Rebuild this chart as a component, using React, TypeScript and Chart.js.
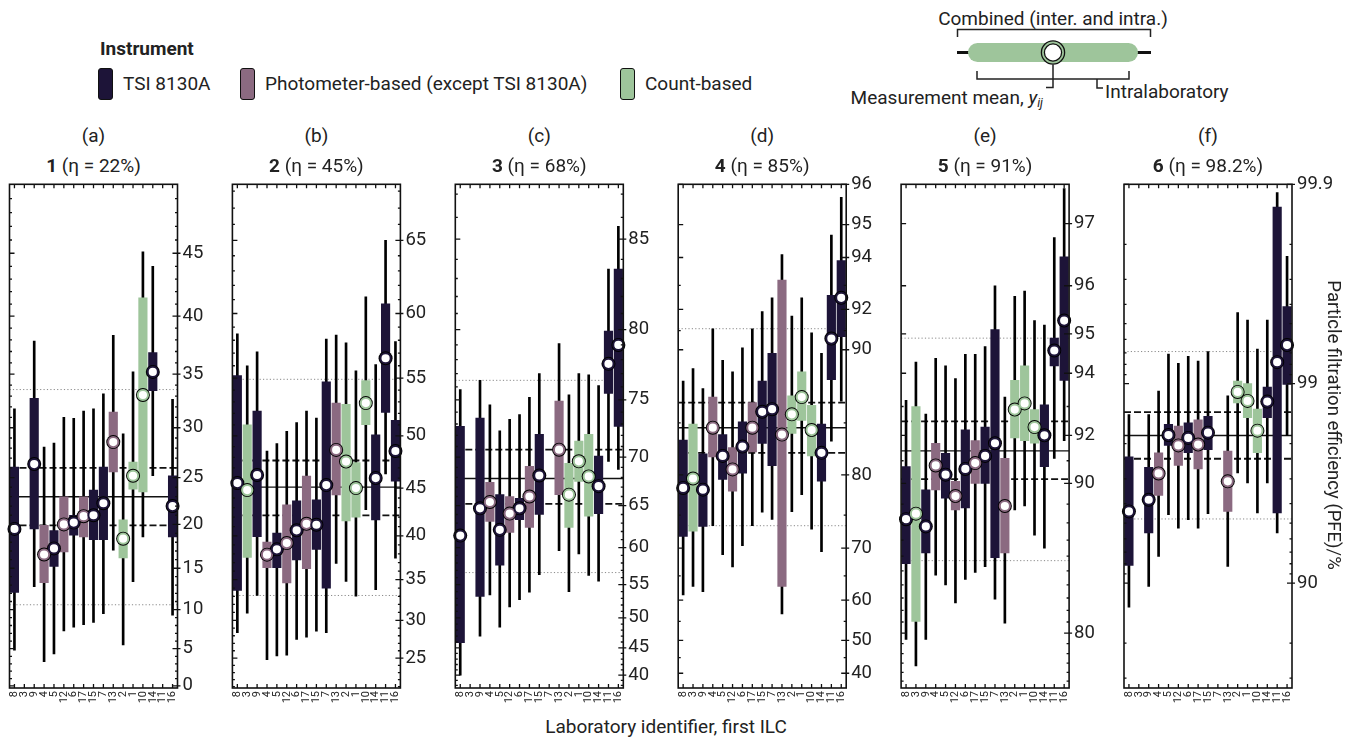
import React, { useEffect, useRef } from 'react';
import { Chart, registerables, Scale } from 'chart.js';

Chart.register(...registerables);

// ---- data -------------------------------------------------------------

const labs = ['8', '3', '9', '4', '5', '12', '6', '17', '15', '7', '13', '2', '1', '10', '14', '11', '16'];
const instrument = ['tsi', 'count', 'tsi', 'photo', 'tsi', 'photo', 'tsi', 'photo', 'tsi', 'tsi', 'photo', 'count', 'count', 'count', 'tsi', 'tsi', 'tsi'];

const panelLetters = ['a', 'b', 'c', 'd', 'e', 'f'];
const filterIds = ['1', '2', '3', '4', '5', '6'];
const etaLabels = ['22%', '45%', '68%', '85%', '91%', '98.2%'];

type Range = [number, number] | null;

// filter 1
const meanA = [19.5, null, 26.4, 16.6, 17.3, 20.0, 20.2, 20.9, 21.0, 22.3, 28.6, 18.4, 25.2, 33.1, 35.2, null, 22.0];
const intraA: Range[] = [[12.1, 26.1], null, [19.5, 32.8], [13.3, 19.9], [15.2, 19.3], [16.9, 23.0], [18.8, 21.0], [18.6, 23.0], [18.3, 23.7], [18.3, 26.1], [25.6, 31.5], [16.2, 20.5], [23.8, 26.6], [23.5, 41.5], [33.5, 36.9], null, [18.6, 25.2]];
const combinedA: Range[] = [[4.8, 31.8], null, [12.8, 37.9], [3.3, 28.1], [4.3, 28.5], [7.3, 31.0], [7.8, 30.9], [8.1, 31.6], [8.4, 31.8], [9.5, 33.2], [17.1, 38.4], [5.5, 29.4], [13.4, 35.2], [18.6, 45.1], [25.2, 44.0], null, [9.3, 32.7]];

// filter 2
const meanB = [45.5, 44.8, 46.3, 37.9, 38.5, 39.2, 40.6, 41.3, 41.2, 45.3, 48.7, 47.6, 45.0, 52.9, 46.0, 56.6, 48.6];
const intraB: Range[] = [[33.7, 55.2], [37.6, 51.0], [39.9, 52.2], [36.4, 39.3], [36.4, 40.3], [34.6, 43.3], [37.3, 43.7], [36.3, 46.2], [38.5, 43.8], [34.0, 54.7], [44.3, 52.9], [41.6, 52.8], [42.0, 47.5], [51.0, 54.8], [41.7, 50.1], [52.1, 60.7], [45.7, 51.4]];
const combinedB: Range[] = [[28.4, 58.5], [30.9, 56.0], [33.1, 57.1], [24.8, 48.6], [25.3, 49.3], [25.4, 50.4], [27.5, 51.2], [27.8, 52.2], [28.6, 51.6], [28.4, 58.1], [36.9, 58.4], [34.8, 57.8], [33.0, 55.6], [42.8, 61.2], [33.8, 56.1], [46.4, 65.0], [37.5, 57.9]];

// filter 3
const meanC = [61.5, null, 64.7, 65.4, 62.2, 64.1, 64.7, 66.0, 68.2, null, 70.7, 66.2, 69.6, 68.1, 67.1, 77.7, 79.0];
const intraC: Range[] = [[45.9, 72.8], null, [53.3, 73.5], [63.2, 67.5], [57.7, 66.2], [61.9, 66.0], [63.4, 65.8], [62.5, 69.1], [64.0, 72.1], null, [66.2, 74.9], [62.5, 69.4], [67.6, 71.5], [63.8, 72.1], [64.1, 70.1], [75.5, 79.9], [72.8, 83.5]];
const combinedC: Range[] = [[40.0, 75.8], null, [47.0, 76.5], [53.5, 74.6], [48.5, 72.4], [51.7, 73.4], [52.8, 73.8], [53.9, 75.2], [56.4, 77.0], null, [59.6, 79.1], [54.0, 75.4], [59.2, 77.0], [56.3, 76.9], [55.5, 76.1], [69.6, 83.5], [68.8, 85.6]];

// filter 4
const meanD = [78.5, 79.6, 78.3, 84.6, 82.0, 80.6, 82.9, 84.6, 85.9, 86.1, 84.0, 85.7, 87.0, 84.4, 82.3, 90.6, 92.5];
const intraD: Range[] = [[71.9, 83.5], [72.7, 84.9], [73.4, 82.2], [81.9, 87.0], [79.5, 84.0], [78.1, 82.8], [80.2, 85.1], [82.4, 86.6], [83.2, 88.1], [81.0, 89.8], [62.9, 93.2], [84.1, 87.1], [85.2, 88.7], [82.0, 86.4], [79.3, 84.9], [88.2, 92.6], [90.7, 93.9]];
const combinedD: Range[] = [[61.1, 88.1], [62.9, 88.9], [61.8, 87.6], [73.5, 91.1], [68.9, 89.4], [66.7, 88.7], [70.4, 90.1], [73.5, 91.1], [75.4, 91.9], [74.4, 92.5], [56.8, 94.1], [75.5, 91.7], [77.7, 92.5], [73.0, 90.9], [69.4, 89.8], [83.4, 94.7], [86.7, 95.7]];

// filter 5
const meanE = [88.2, 88.5, 87.8, 90.8, 90.4, 89.4, 90.65, 90.9, 91.2, 91.7, 88.9, 92.9, 93.1, 92.3, 92.0, 94.6, 95.3];
const intraE: Range[] = [[85.5, 90.75], [81.05, 93.0], [86.2, 89.7], [89.7, 91.7], [89.3, 91.3], [88.7, 90.1], [88.8, 92.2], [90.0, 91.8], [90.0, 92.3], [85.9, 95.1], [86.2, 91.1], [91.9, 93.8], [91.8, 94.2], [91.7, 92.9], [90.75, 93.05], [94.2, 94.9], [93.8, 96.5]];
const combinedE: Range[] = [[79.4, 93.2], [76.7, 94.3], [79.4, 92.75], [84.7, 94.4], [84.0, 94.2], [82.6, 93.85], [84.4, 94.5], [84.9, 94.5], [85.3, 94.7], [82.9, 96.0], [80.9, 93.3], [88.7, 95.8], [88.9, 95.9], [87.3, 95.3], [86.5, 95.2], [91.1, 96.8], [91.8, 97.45]];

// filter 6
const meanF = [95.63, null, 96.18, 97.18, 98.19, 97.96, 98.13, 97.98, 98.24, null, 96.91, 98.90, 98.78, 98.28, 98.77, 99.22, 99.36];
const intraF: Range[] = [[91.85, 97.67], null, [94.4, 97.37], [96.37, 97.78], [97.96, 98.40], [97.43, 98.37], [97.78, 98.43], [97.32, 98.48], [97.86, 98.54], null, [95.63, 97.82], [98.75, 99.03], [98.52, 99.0], [97.78, 98.66], [98.52, 98.96], [95.55, 99.87], [98.99, 99.59]];
const combinedF: Range[] = [[86.8, 98.57], null, [89.6, 98.57], [92.65, 98.91], [95.46, 99.29], [94.7, 99.21], [95.19, 99.27], [94.7, 99.23], [95.51, 99.31], null, [91.75, 98.85], [97.2, 99.56], [96.85, 99.52], [95.55, 99.33], [96.85, 99.52], [94.39, 99.89], [98.18, 99.77]];

// consensus value with its inner (dashed) and outer (dotted) limits, per filter
const consensus = [23.0, 45.1, 67.9, 84.6, 91.4, 98.18];
const innerBand = [[19.9, 26.0], [42.2, 47.7], [65.2, 70.7], [82.3, 86.6], [90.2, 92.5], [97.62, 98.61]];
const outerBand = [[10.6, 33.6], [33.1, 54.9], [56.7, 76.5], [73.5, 91.1], [85.7, 94.9], [95.23, 99.31]];

// axis extent and tick labels (PFE, %)
const axisMin = [-0.3, 20.8, 37.5, 34.9, 74.2, 66.4];
const axisMax = [50, 68.4, 87.4, 96.0, 97.5, 99.9];
const ticksA = [0, 5, 10, 15, 20, 25, 30, 35, 40, 45];
const ticksB = [25, 30, 35, 40, 45, 50, 55, 60, 65];
const ticksC = [40, 45, 50, 55, 60, 65, 70, 75, 80, 85];
const ticksD = [40, 50, 60, 70, 80, 90, 92, 94, 95, 96];
const ticksE = [80, 90, 92, 94, 95, 96, 97];
const ticksF = [90, 99, 99.9];
const minorD = [93, 91, 85, 75, 65, 55, 45];
const minorE = [93, 91, 89, 88, 87, 86, 85, 84, 83, 82, 81, 79, 78, 77, 76, 75];
const minorF = [99.8, 99.7, 99.6, 99.5, 99.4, 99.3, 99.2, 99.1, 98, 97, 96, 95, 94, 93, 92, 91, 80, 70];

const meanSets = [meanA, meanB, meanC, meanD, meanE, meanF];
const intraSets = [intraA, intraB, intraC, intraD, intraE, intraF];
const combinedSets = [combinedA, combinedB, combinedC, combinedD, combinedE, combinedF];
const tickSets = [ticksA, ticksB, ticksC, ticksD, ticksE, ticksF];

function wholeMinors(lo: number, hi: number, major: number[]) {
  const out: number[] = [];
  for (let v = Math.ceil(lo); v <= Math.floor(hi); v++) if (!major.includes(v)) out.push(v);
  return out;
}
const minorSets = [
  wholeMinors(0, 49, ticksA),
  wholeMinors(21, 68, ticksB),
  wholeMinors(38, 87, ticksC),
  minorD,
  minorE,
  minorF,
];

const colours: Record<string, string> = {
  tsi: '#1d1438',
  photo: '#8b6a81',
  count: '#9ec59b',
};
const legendItems = [
  { key: 'tsi', label: 'TSI 8130A', x: 98, textX: 123 },
  { key: 'photo', label: 'Photometer-based (except TSI 8130A)', x: 240, textX: 265 },
  { key: 'count', label: 'Count-based', x: 620, textX: 645 },
];

// ---- penetration scale: distance ∝ −ln(1 − PFE) -------------------------

const pen = (p: number) => -Math.log(1 - p / 100);

class PenetrationScale extends Scale {
  static id = 'penetration';
  static defaults = {};
  tLo = 0;
  tHi = 1;
  determineDataLimits() {
    const { min, max } = this.getUserBounds();
    this.min = min;
    this.max = max;
  }
  buildTicks() {
    return [];
  }
  getLabelForValue(v: number) {
    return String(v);
  }
  configure() {
    super.configure();
    this.tLo = pen(this.min);
    this.tHi = pen(this.max);
  }
  getPixelForValue(v: number) {
    if (v === null || v === undefined || isNaN(v)) return NaN;
    return this.getPixelForDecimal((pen(v) - this.tLo) / (this.tHi - this.tLo));
  }
  getValueForPixel(px: number) {
    const t = this.tLo + this.getDecimalForPixel(px) * (this.tHi - this.tLo);
    return 100 * (1 - Math.exp(-t));
  }
  getPixelForTick(i: number) {
    const t = this.ticks[i];
    return t ? this.getPixelForValue(t.value) : NaN;
  }
  getBasePixel() {
    return this.getPixelForValue(this.min);
  }
}
Chart.register(PenetrationScale);

Chart.defaults.font.family = 'Roboto, "Noto Sans", sans-serif';
Chart.defaults.color = '#222';

// ---- layout -----------------------------------------------------------

const PLOT_TOP = 184.3;
const PLOT_BOTTOM = 688;
const PLOT_W = 168;
const CANVAS_TOP = 165;
const CANVAS_H = 550;
const CANVAS_W = 225;
const FIRST_LEFT = 9.5;
const PANEL_STEP = 222.9;
const TEXT_SIZE = 19;

const plotLeftOf = (i: number) => FIRST_LEFT + PANEL_STEP * i;

function decorations(i: number) {
  return {
    id: 'panelDecor' + i,
    beforeDatasetsDraw(chart: any) {
      const { ctx, chartArea } = chart;
      const y = chart.scales.y;
      const rule = (v: number, dash: number[], colour: string, w: number) => {
        const py = y.getPixelForValue(v);
        ctx.save();
        ctx.beginPath();
        ctx.setLineDash(dash);
        ctx.strokeStyle = colour;
        ctx.lineWidth = w;
        ctx.moveTo(chartArea.left, py);
        ctx.lineTo(chartArea.right, py);
        ctx.stroke();
        ctx.restore();
      };
      outerBand[i].forEach((v) => rule(v, [1.2, 2.2], '#8a8a8a', 1));
      innerBand[i].forEach((v) => rule(v, [7, 3], '#111', 1.8));
      rule(consensus[i], [], '#111', 1.4);
    },
    afterDatasetsDraw(chart: any) {
      const { ctx, chartArea } = chart;
      const { left, right, top, bottom } = chartArea;
      const y = chart.scales.y;
      const x = chart.scales.x;
      ctx.save();
      ctx.strokeStyle = '#111';
      ctx.lineWidth = 1.3;
      ctx.beginPath();
      tickSets[i].forEach((v) => {
        const py = y.getPixelForValue(v);
        ctx.moveTo(left, py);
        ctx.lineTo(left + 5, py);
        ctx.moveTo(right - 5, py);
        ctx.lineTo(right + 3, py);
      });
      minorSets[i].forEach((v) => {
        if (v <= axisMin[i] || v >= axisMax[i]) return;
        const py = y.getPixelForValue(v);
        ctx.moveTo(left, py);
        ctx.lineTo(left + 2.5, py);
        ctx.moveTo(right - 2.5, py);
        ctx.lineTo(right, py);
      });
      labs.forEach((_, k) => {
        const px = x.getPixelForValue(k);
        ctx.moveTo(px, top);
        ctx.lineTo(px, top + 4);
        ctx.moveTo(px, bottom);
        ctx.lineTo(px, bottom - 4);
      });
      ctx.stroke();
      ctx.lineWidth = 1.6;
      ctx.strokeRect(left, top, right - left, bottom - top);
      ctx.restore();
    },
  };
}

function Panel({ index }: { index: number }) {
  const ref = useRef<HTMLCanvasElement>(null);
  const plotLeft = plotLeftOf(index);
  const canvasLeft = Math.floor(plotLeft) - 10;
  const padLeft = plotLeft - canvasLeft;
  const padTop = PLOT_TOP - CANVAS_TOP;
  const yAxisW = CANVAS_W - padLeft - PLOT_W;
  const xAxisH = CANVAS_H - padTop - (PLOT_BOTTOM - PLOT_TOP);

  useEffect(() => {
    if (!ref.current) return;
    const cols = instrument.map((k) => colours[k]);
    const chart = new Chart(ref.current, {
      type: 'bar',
      data: {
        labels: labs,
        datasets: [
          {
            type: 'line',
            data: meanSets[index],
            showLine: false,
            pointRadius: 5.1,
            pointBackgroundColor: '#ffffff',
            pointBorderColor: cols,
            pointBorderWidth: 2,
            order: 1,
            clip: false,
          } as any,
          {
            type: 'line',
            data: meanSets[index],
            showLine: false,
            pointRadius: 7,
            pointBackgroundColor: '#000000',
            pointBorderWidth: 0,
            order: 2,
            clip: false,
          } as any,
          {
            data: intraSets[index] as any,
            backgroundColor: cols,
            barThickness: 8.5,
            grouped: false,
            borderWidth: 0,
            borderSkipped: false,
            order: 3,
          } as any,
          {
            data: combinedSets[index] as any,
            backgroundColor: '#000000',
            barThickness: 2,
            grouped: false,
            borderWidth: 0,
            borderSkipped: false,
            order: 4,
          } as any,
        ],
      },
      options: {
        animation: false,
        responsive: false,
        maintainAspectRatio: false,
        devicePixelRatio: 1,
        layout: { padding: { left: padLeft, top: padTop, right: 0, bottom: 0 } },
        plugins: { legend: { display: false }, tooltip: { enabled: false } },
        events: [],
        scales: {
          x: {
            type: 'category',
            offset: true,
            grid: { display: false, drawTicks: false },
            border: { display: false },
            ticks: {
              font: { size: 11 },
              color: '#222',
              minRotation: 90,
              maxRotation: 90,
              autoSkip: false,
              padding: 3,
            },
            afterFit: (s: any) => {
              s.height = xAxisH;
            },
          },
          y: {
            type: 'penetration',
            position: 'right',
            min: axisMin[index],
            max: axisMax[index],
            grid: { display: false, drawTicks: false },
            border: { display: false },
            ticks: { font: { size: 18.5 }, color: '#222', padding: 5, autoSkip: false },
            afterBuildTicks: (s: any) => {
              s.ticks = tickSets[index].map((v) => ({ value: v }));
            },
            afterFit: (s: any) => {
              s.width = yAxisW;
            },
          } as any,
        },
      },
      plugins: [decorations(index)],
    } as any);
    return () => chart.destroy();
  }, [index]);

  return (
    <canvas
      ref={ref}
      width={CANVAS_W}
      height={CANVAS_H}
      style={{ position: 'absolute', left: canvasLeft, top: CANVAS_TOP, width: CANVAS_W, height: CANVAS_H }}
    />
  );
}

function KeyDiagram() {
  const green = colours.count;
  return (
    <svg
      width={1354}
      height={120}
      style={{ position: 'absolute', left: 0, top: 0 }}
      fontFamily='Roboto, "Noto Sans", sans-serif'
    >
      <text x={1053} y={18} fontSize={TEXT_SIZE} textAnchor="middle" dominantBaseline="central" fill="#222">
        Combined (inter. and intra.)
      </text>
      <path d="M957.5,37 L957.5,29.5 L1150.5,29.5 L1150.5,37" fill="none" stroke="#222" strokeWidth={1.5} />
      <path d="M957,52.5 L970,52.5 M1136,52.5 L1151,52.5" stroke="#111" strokeWidth={3} />
      <rect x={968} y={43} width={170} height={19} rx={9.5} fill={green} />
      <circle cx={1053} cy={52.5} r={11.6} fill={green} stroke="#111" strokeWidth={1.3} />
      <circle cx={1053} cy={52.5} r={8.6} fill="#fff" stroke="#111" strokeWidth={1.3} />
      <path d="M977,71 L977,79 L1129,79 L1129,71" fill="none" stroke="#222" strokeWidth={1.5} />
      <path d="M1053,64.5 L1053,87.5 L1046,87.5" fill="none" stroke="#222" strokeWidth={1.5} />
      <path d="M1097,79 L1097,88 L1103,88" fill="none" stroke="#222" strokeWidth={1.5} />
      <text x={1043} y={97} fontSize={TEXT_SIZE} textAnchor="end" dominantBaseline="central" fill="#222">
        Measurement mean,{' '}
        <tspan fontStyle="italic">y</tspan>
        <tspan fontStyle="italic" fontSize={12.5} dy={5}>
          ij
        </tspan>
      </text>
      <text x={1105} y={91} fontSize={TEXT_SIZE} dominantBaseline="central" fill="#222">
        Intralaboratory
      </text>
    </svg>
  );
}

export default function App() {
  return (
    <div
      style={{
        position: 'absolute',
        left: 0,
        top: 0,
        width: 1354,
        height: 738,
        background: '#fff',
        fontFamily: 'Roboto, "Noto Sans", sans-serif',
        color: '#222',
        overflow: 'hidden',
      }}
    >
      <div style={{ position: 'absolute', left: 100, top: 38, fontSize: TEXT_SIZE, fontWeight: 700, lineHeight: '22px' }}>
        Instrument
      </div>
      {legendItems.map((it) => (
        <React.Fragment key={it.key}>
          <div
            style={{
              position: 'absolute',
              left: it.x,
              top: 68,
              width: 13,
              height: 30,
              borderRadius: 3,
              border: '1.5px solid #111',
              background: colours[it.key],
            }}
          />
          <div
            style={{
              position: 'absolute',
              left: it.textX,
              top: 73,
              fontSize: TEXT_SIZE,
              lineHeight: '22px',
              whiteSpace: 'nowrap',
            }}
          >
            {it.label}
          </div>
        </React.Fragment>
      ))}
      <KeyDiagram />
      {panelLetters.map((letter, i) => (
        <React.Fragment key={letter}>
          <div
            style={{
              position: 'absolute',
              left: plotLeftOf(i),
              width: PLOT_W,
              top: 126,
              textAlign: 'center',
              fontSize: TEXT_SIZE,
              lineHeight: '20px',
            }}
          >
            ({letter})
          </div>
          <div
            style={{
              position: 'absolute',
              left: plotLeftOf(i),
              width: PLOT_W,
              top: 156,
              textAlign: 'center',
              fontSize: TEXT_SIZE,
              lineHeight: '20px',
              whiteSpace: 'nowrap',
            }}
          >
            <b>{filterIds[i]}</b> (η = {etaLabels[i]})
          </div>
          <Panel index={i} />
        </React.Fragment>
      ))}
      <div
        style={{
          position: 'absolute',
          left: 466,
          width: 400,
          top: 716,
          textAlign: 'center',
          fontSize: TEXT_SIZE,
          lineHeight: '22px',
        }}
      >
        Laboratory identifier, first ILC
      </div>
      <div
        style={{
          position: 'absolute',
          left: 1323,
          top: 425,
          transform: 'translate(0, -50%)',
          writingMode: 'vertical-rl',
          fontSize: 18.5,
          lineHeight: '22px',
          whiteSpace: 'nowrap',
        }}
      >
        Particle filtration efficiency (PFE)/%
      </div>
    </div>
  );
}
